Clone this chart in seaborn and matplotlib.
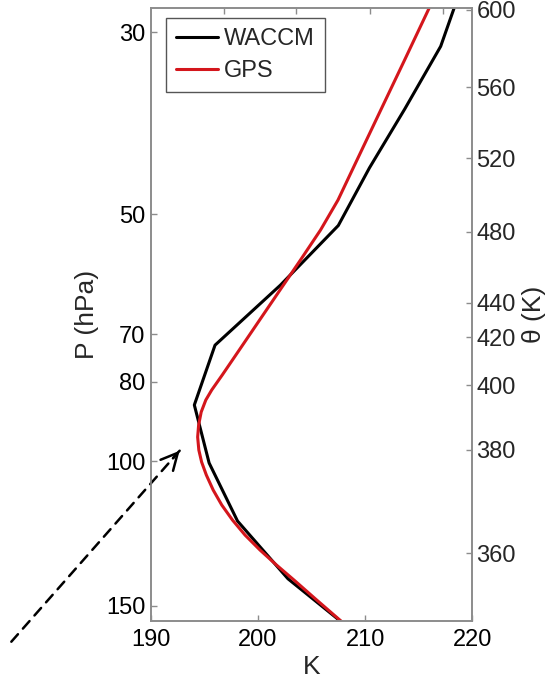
import numpy as np
import pandas as pd
import seaborn as sns
import matplotlib.pyplot as plt
from matplotlib.ticker import FixedLocator, FixedFormatter, NullLocator

# ============================================================================
# DATA
# ============================================================================
waccm_p = [26.4, 31.2, 37.2, 43.9, 51.6, 61.0, 72.2, 85.4, 100.5, 118.3, 139.1, 163.7]
waccm_t = [219.0, 217.05, 213.7, 210.4, 207.5, 202.1, 196.0, 194.07, 195.45, 198.1, 202.8, 209.5]

gps_p = [28.05, 32.43, 37.31, 42.94, 48.04, 52.26, 56.85, 61.85, 67.28, 73.19,
         78.52, 81.89, 84.22, 87.11, 90.35, 93.44, 96.92, 100.24, 103.96, 108.44,
         113.10, 117.97, 123.04, 128.34, 133.86, 139.62, 147.68, 156.52, 165.24]
gps_t = [215.96, 213.68, 211.46, 209.24, 207.47, 205.84, 203.97, 202.06, 200.16, 198.26,
         196.67, 195.69, 195.14, 194.71, 194.47, 194.38, 194.49, 194.75, 195.19, 195.83,
         196.63, 197.63, 198.80, 200.20, 201.74, 203.37, 205.49, 207.72, 209.80]

p_ticks = [30, 50, 70, 80, 100, 150]
theta_labels = [360, 380, 400, 420, 440, 480, 520, 560, 600]
theta_p = [129.5, 96.9, 80.75, 70.6, 64.1, 52.5, 42.7, 35.0, 28.14]
t_ticks = [190, 200, 210, 220]
top_ticks = [196.8, 203.6, 210.5, 217.3]

arrow_tail = (177.0, 166.0)
arrow_tip = (192.7, 97.1)

df = pd.concat([
    pd.DataFrame({'T': waccm_t, 'P': waccm_p, 'src': 'WACCM'}),
    pd.DataFrame({'T': gps_t, 'P': gps_p, 'src': 'GPS'}),
], ignore_index=True)

# ============================================================================
# STYLE
# ============================================================================
sns.set_theme(style='ticks')
plt.rcParams['font.family'] = ['Liberation Sans', 'DejaVu Sans']
spine_col = '#8c8c8c'

fig = plt.figure(figsize=(5.51, 6.84), dpi=100)
ax = fig.add_axes([0.2735, 0.0925, 0.5837, 0.8954])

sns.lineplot(data=df, x='T', y='P', hue='src', sort=False, estimator=None,
             palette={'WACCM': 'black', 'GPS': '#d4161c'}, linewidth=2.2, ax=ax)

ax.set_yscale('log')
ax.set_xlim(190, 220)
ax.set_ylim(156.5, 28.04)
ax.yaxis.set_major_locator(FixedLocator(p_ticks))
ax.yaxis.set_major_formatter(FixedFormatter([str(p) for p in p_ticks]))
ax.yaxis.set_minor_locator(NullLocator())
ax.set_xticks(t_ticks)
ax.set_xlabel('K', fontsize=19, labelpad=3)
ax.set_ylabel('P (hPa)', fontsize=19, labelpad=5)
ax.tick_params(axis='both', direction='in', length=4, width=1, color=spine_col,
               labelsize=17, labelcolor='black')
ax.tick_params(axis='x', pad=6)
ax.tick_params(axis='y', pad=4, right=False)

# right-hand theta axis
ax2 = ax.twinx()
ax2.set_yscale('log')
ax2.set_ylim(ax.get_ylim())
ax2.yaxis.set_major_locator(FixedLocator(theta_p))
ax2.yaxis.set_major_formatter(FixedFormatter([str(t) for t in theta_labels]))
ax2.yaxis.set_minor_locator(NullLocator())
ax2.tick_params(axis='y', direction='in', length=4, width=1, color=spine_col,
                labelsize=17, pad=3)
ax2.set_ylabel('\u03b8 (K)', fontsize=19, labelpad=4)

# top tick marks
sec = ax.secondary_xaxis('top')
sec.set_xticks(top_ticks)
sec.tick_params(direction='in', length=4, width=1, color=spine_col, labeltop=False)
sec.spines['top'].set_visible(False)

for a in (ax, ax2):
    for s in a.spines.values():
        s.set_color(spine_col)
        s.set_linewidth(1.2)

# legend
leg = ax.legend(loc='upper left', bbox_to_anchor=(0.047, 0.984), fontsize=17,
                frameon=True, fancybox=False, edgecolor='#555555', framealpha=1,
                handlelength=1.8, handletextpad=0.25, borderpad=0.42,
                labelspacing=0.42, borderaxespad=0)
leg.get_frame().set_linewidth(1.0)

# dashed arrow
ax.annotate('', xy=arrow_tip, xytext=arrow_tail, xycoords='data', textcoords='data',
            annotation_clip=False,
            arrowprops=dict(arrowstyle='-', linestyle=(0, (4, 3)), lw=1.8,
                            color='black', shrinkA=0, shrinkB=0))
f = 0.04
head_back = (arrow_tip[0] + f * (arrow_tail[0] - arrow_tip[0]),
             arrow_tip[1] * (arrow_tail[1] / arrow_tip[1]) ** f)
ax.annotate('', xy=arrow_tip, xytext=head_back, xycoords='data', textcoords='data',
            annotation_clip=False,
            arrowprops=dict(arrowstyle='->', lw=1.8, color='black',
                            shrinkA=0, shrinkB=0, mutation_scale=30))

plt.savefig('out.png', dpi=100)
